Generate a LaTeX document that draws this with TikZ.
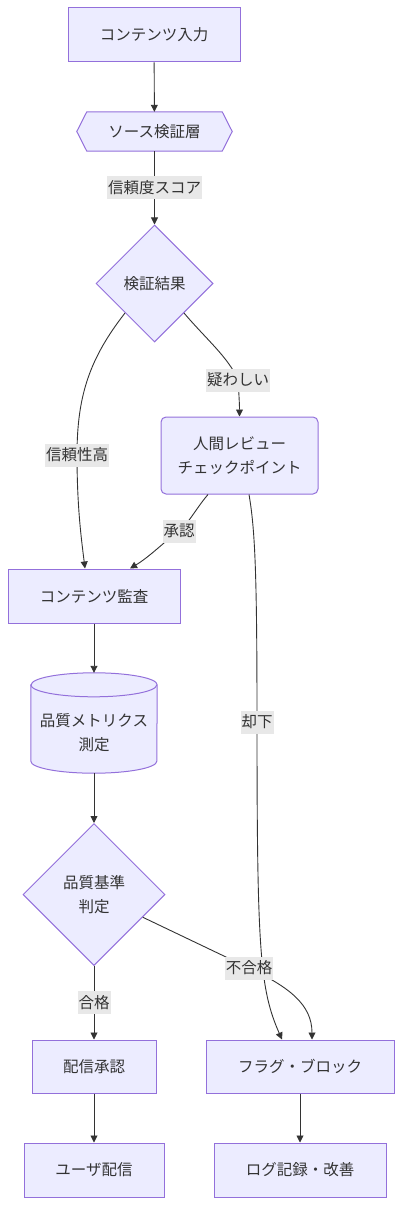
\documentclass[tikz,border=0pt]{standalone}
\usepackage{fontspec}
\setmainfont{Noto Sans CJK JP}
\usetikzlibrary{arrows.meta,shapes.geometric,backgrounds}
\definecolor{nodefill}{HTML}{ECECFF}
\definecolor{nodeline}{HTML}{9370DB}
\definecolor{textgray}{HTML}{333333}
\definecolor{labelbg}{HTML}{E8E8E8}

\begin{document}
\begin{tikzpicture}[x=1pt,y=-1pt,
	font=\fontsize{15.5}{24.5}\selectfont,
	every node/.style={text=textgray},
	shapeline/.style={draw=nodeline,fill=nodefill,line width=1pt},
	box/.style={shapeline,inner sep=0pt,align=center},
	roundbox/.style={box,rounded corners=5pt},
	choice/.style={box,diamond,aspect=1},
	plain/.style={inner sep=0pt,align=center},
	lbl/.style={fill=labelbg,inner xsep=1pt,inner ysep=0pt,minimum height=23pt},
	arr/.style={-{Triangle[length=7pt,width=7pt]},draw=textgray,line width=0.9pt}]

	\useasboundingbox (0,0) rectangle (402,1206);

	% Nodes
	\node[box,minimum width=172pt,minimum height=54pt] (input) at (154,35) {コンテンツ入力};
	\node[plain,minimum width=155pt,minimum height=39pt] (source) at (154.5,131.5) {ソース検証層};
	\node[choice,minimum size=117pt] (check) at (154.5,283.5) {検証結果};
	\node[roundbox,minimum width=157pt,minimum height=77pt] (review) at (239.5,455.5) {人間レビュー\\チェックポイント};
	\node[box,minimum width=172pt,minimum height=54pt] (audit) at (94,596) {コンテンツ監査};
	\node[plain,minimum width=126pt,minimum height=100pt,
		label={[plain,yshift=-9.5pt]center:{品質メトリクス\\測定}}] (metrics) at (94,723) {};
	\node[choice,minimum size=142pt] (quality) at (94,894.5) {品質基準\\判定};
	\node[box,minimum width=124pt,minimum height=53pt] (approve) at (94,1066.5) {配信承認};
	\node[box,minimum width=188pt,minimum height=53pt] (flag) at (300,1066.5) {フラグ・ブロック};
	\node[box,minimum width=140pt,minimum height=54pt] (deliver) at (94,1170) {ユーザ配信};
	\node[box,minimum width=172pt,minimum height=54pt] (log) at (300,1170) {ログ記録・改善};

	% Outlines behind the text
	\begin{scope}[on background layer]
		\draw[shapeline] (source.west) -- ([xshift=10pt]source.north west) -- ([xshift=-10pt]source.north east)
			-- (source.east) -- ([xshift=-10pt]source.south east) -- ([xshift=10pt]source.south west) -- cycle;
		\draw[shapeline] ([yshift=-12pt]metrics.north west) -- ([yshift=12pt]metrics.south west)
			arc[start angle=180,end angle=360,x radius=63pt,y radius=12pt]
			-- ([yshift=-12pt]metrics.north east)
			arc[start angle=0,end angle=180,x radius=63pt,y radius=12pt] -- cycle;
		\draw[shapeline,fill=none] ([yshift=-12pt]metrics.north west)
			arc[start angle=180,end angle=360,x radius=63pt,y radius=12pt];
	\end{scope}

	% Label points
	\coordinate (c1) at (77,455);
	\coordinate (c2) at (238,380);
	\coordinate (c3) at (179,531);
	\coordinate (c4) at (257,722);
	\coordinate (c5) at (249,968);

	% Arrows
	\draw[arr] (input) -- (source);
	\draw[arr] (source) -- node[lbl] (scorelbl) {信頼度スコア} (check);
	\draw[arr] (check.south east) .. controls +(22,26) and +(-9,-22) .. (c2) node[lbl] (doubtlbl) {疑わしい}
		.. controls +(1,15) and +(0,-12) .. (review.north);
	\draw[arr] (check.south west) .. controls +(-35,45) and +(0,-60) .. (c1) node[lbl] (highlbl) {信頼性高}
		.. controls +(0,55) and +(-3,-25) .. ([xshift=-9pt]audit.north);
	\draw[arr] ([xshift=-31.5pt]review.south) .. controls +(-12,14) and +(10,-8) .. (c3) node[lbl] (oklbl) {承認}
		.. controls +(-14,10) and +(20,-12) .. ([xshift=36pt]audit.north);
	\draw[arr] ([xshift=9.5pt]review.south) .. controls +(6,35) and +(0,-150) .. (c4) node[lbl] (rejectlbl) {却下}
		.. controls +(0,230) and +(-22,-50) .. ([xshift=-18pt]flag.north);
	\draw[arr] (audit) -- (metrics);
	\draw[arr] (metrics) -- (quality);
	\draw[arr] (quality.-25) -- (c5) node[lbl] (faillbl) {不合格}
		.. controls +(40,19) and +(0,-35) .. ([xshift=12pt]flag.north);
	\draw[arr] (quality) -- node[lbl] (passlbl) {合格} (approve);
	\draw[arr] (approve) -- (deliver);
	\draw[arr] (flag) -- (log);
\end{tikzpicture}
\end{document}
